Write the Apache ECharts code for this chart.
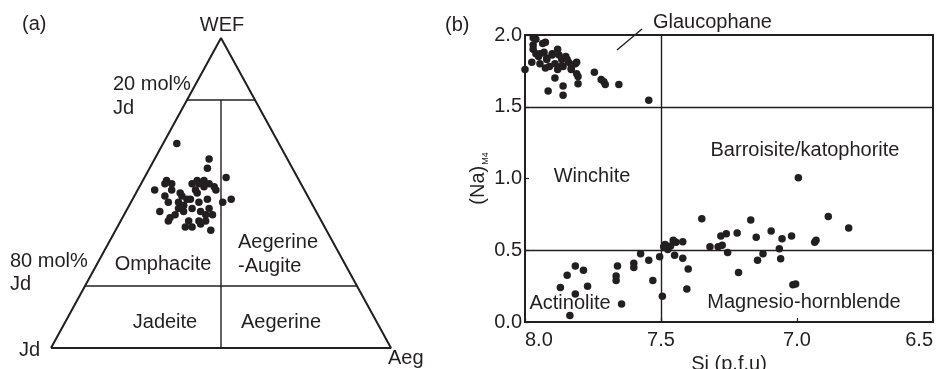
<!DOCTYPE html>
<html>
<head>
<meta charset="utf-8">
<script src="https://cdn.jsdelivr.net/npm/echarts@6/dist/echarts.min.js"></script>
<style>
  html, body { margin: 0; padding: 0; background: #fff; }
  #chart { width: 937px; height: 369px; }
</style>
</head>
<body>
<div id="chart"></div>
<script>
// ---- Panel (a): clinopyroxene end-member proportions (mol%) ----
const cpxWef = [66,61,58,55,48,47,51,54,53,51,49,47,44,42,41,50,49,53,54,54,53,52,51,51,50,48,47,46,48,47,48,45,44,45,44,45,43,41,41,41,39,39,40,38,53,43,53,52,46,43];
const cpxJd  = [30,23,25,21,23,26,44,39,38,39,42,42,46,44,45,37,37,32,30,28,27,26,26,32,32,36,39,38,35,33,30,40,39,36,34,31,31,39,36,34,41,39,36,34,40,42,30,29,38,33];
const cpxAeg = [ 4,16,17,24,29,27, 5, 7, 9,10, 9,11,10,14,14,13,14,15,16,18,20,22,23,17,18,16,14,16,17,20,22,15,17,19,22,24,26,20,23,25,20,22,24,28, 7,15,17,19,16,24];

// Classification boundaries, as [Jd, Aeg, WEF] end points
const cpxFrame = [[100,0,0],[0,100,0],[0,0,100],[100,0,0]];
const cpxBounds = [
  [[20,0,80],[0,20,80]],
  [[80,0,20],[0,80,20]],
  [[10,10,80],[50,50,0]]
];

// ---- Panel (b): amphibole Si (p.f.u.) vs (Na)M4 ----
const amphSi = [8.00,7.97,7.97,7.97,7.975,7.96,7.95,7.935,7.925,7.945,7.93,7.92,7.91,7.90,7.88,7.875,7.865,7.89,7.88,7.86,7.85,7.84,7.83,7.815,7.81,7.805,7.89,7.915,7.86,7.86,7.745,7.72,7.705,7.655,7.545,7.96,7.925,7.83,7.81,7.805,7.71,7.90,7.845,7.945,7.87,7.92,
  7.87,7.845,7.815,7.785,7.815,7.77,7.835,7.645,7.665,7.665,7.66,7.60,7.60,7.575,7.545,7.53,7.505,7.495,7.49,7.485,7.475,7.465,7.455,7.45,7.445,7.42,7.42,7.40,7.405,7.35,7.32,7.29,7.275,7.28,7.26,7.255,7.22,7.215,7.17,7.15,7.125,7.145,7.095,7.055,7.065,7.06,7.02,7.015,7.005,6.935,6.93,6.885,6.81,6.995];
const amphNa = [1.76,1.98,1.93,1.90,1.81,1.87,1.85,1.94,1.95,1.80,1.88,1.84,1.78,1.87,1.90,1.86,1.83,1.80,1.76,1.78,1.85,1.81,1.76,1.80,1.73,1.66,1.70,1.61,1.645,1.58,1.74,1.69,1.655,1.655,1.545,1.97,1.77,1.77,1.81,1.71,1.675,1.86,1.83,1.87,1.78,1.83,
  0.24,0.325,0.39,0.36,0.195,0.25,0.045,0.125,0.29,0.32,0.39,0.38,0.41,0.475,0.43,0.29,0.455,0.18,0.525,0.54,0.505,0.53,0.57,0.465,0.555,0.56,0.445,0.37,0.23,0.72,0.525,0.525,0.535,0.60,0.615,0.485,0.62,0.345,0.71,0.59,0.475,0.43,0.635,0.58,0.51,0.44,0.60,0.26,0.265,0.555,0.57,0.735,0.655,1.005];

const naBounds = [0.5, 1.5];
const siBounds = [7.5];
const siTicks = [6.5, 8.0, 0.5];   // min, max, step
const naTicks = [0.0, 2.0, 0.5];

// ---- helpers ----
const INK = '#231f20';
const FAMILY = '"Liberation Sans", Arial, sans-serif';
const FONT = '20px ' + FAMILY;

// Ternary [Jd, Aeg, WEF] -> triangle coordinates (Jd bottom-left, Aeg bottom-right, WEF apex)
function tern(jd, aeg, wef) {
  const s = jd + aeg + wef;
  return [(aeg + wef / 2) / s, wef / s];
}

const cpxPoints = cpxJd.map((jd, i) => tern(jd, cpxAeg[i], cpxWef[i]));
const framePts = cpxFrame.map(p => tern(p[0], p[1], p[2]));
const boundSeries = cpxBounds.map(seg => ({
  type: 'line', xAxisIndex: 0, yAxisIndex: 0,
  data: seg.map(p => tern(p[0], p[1], p[2])),
  symbol: 'none', silent: true,
  lineStyle: { color: INK, width: 1.4 }
}));

const amphPoints = amphSi.map((s, i) => [s, amphNa[i]]);

function txt(x, y, text, align) {
  return {
    type: 'text', silent: true,
    style: {
      x: x, y: y, text: text, font: FONT, fill: INK,
      textAlign: align || 'left', align: align || 'left',
      textVerticalAlign: 'middle', verticalAlign: 'middle'
    }
  };
}

const chart = echarts.init(document.getElementById('chart'), null, { renderer: 'canvas' });

chart.setOption({
  animation: false,
  backgroundColor: '#fff',
  textStyle: { fontFamily: FAMILY },
  grid: [
    { left: 51, top: 38, width: 340, height: 310, show: false,
      containLabel: false, outerBoundsMode: 'none' },
    { left: 525, top: 35, width: 408, height: 287, show: true,
      containLabel: false, outerBoundsMode: 'none',
      borderColor: INK, borderWidth: 2, backgroundColor: 'transparent' }
  ],
  xAxis: [
    { gridIndex: 0, type: 'value', min: 0, max: 1, show: false },
    { gridIndex: 1, type: 'value', inverse: true,
      min: siTicks[0], max: siTicks[1], interval: siTicks[2],
      name: 'Si (p.f.u)', nameLocation: 'middle', nameGap: 32,
      nameTextStyle: { color: INK, fontSize: 20, fontFamily: FAMILY },
      axisLine: { show: false },
      axisTick: { show: true, inside: true, length: 4, lineStyle: { color: INK, width: 1.2 } },
      splitLine: { show: false },
      axisLabel: { color: INK, fontSize: 20, margin: 8,
        fontFamily: FAMILY,
        alignMinLabel: 'right', alignMaxLabel: 'left',
        formatter: v => v.toFixed(1) }
    }
  ],
  yAxis: [
    { gridIndex: 0, type: 'value', min: 0, max: 1, show: false },
    { gridIndex: 1, type: 'value',
      min: naTicks[0], max: naTicks[1], interval: naTicks[2],
      name: '{a|(Na)}{b|M4}', nameLocation: 'middle', nameGap: 35, nameRotate: 90,
      nameTextStyle: {
        color: INK,
        rich: {
          a: { fontSize: 20, color: INK, fontFamily: FAMILY, lineHeight: 24 },
          b: { fontSize: 9, color: INK, fontFamily: FAMILY, verticalAlign: 'bottom', lineHeight: 24, padding: [0, 0, 0, 1] }
        }
      },
      axisLine: { show: false },
      axisTick: { show: true, inside: true, length: 4, lineStyle: { color: INK, width: 1.2 } },
      splitLine: { show: false },
      axisLabel: { color: INK, fontSize: 20, margin: 3, padding: [5, 0, 0, 0],
        fontFamily: FAMILY,
        formatter: v => v.toFixed(1) }
    }
  ],
  series: [
    { type: 'line', xAxisIndex: 0, yAxisIndex: 0, data: framePts,
      symbol: 'none', silent: true, lineStyle: { color: INK, width: 2 } },
    ...boundSeries,
    { type: 'scatter', xAxisIndex: 0, yAxisIndex: 0, data: cpxPoints,
      symbol: 'circle', symbolSize: 7.5, itemStyle: { color: INK, opacity: 1 }, clip: false },
    { type: 'scatter', xAxisIndex: 1, yAxisIndex: 1, data: amphPoints,
      symbol: 'circle', symbolSize: 7.5, itemStyle: { color: INK, opacity: 1 }, clip: false,
      markLine: {
        silent: true, symbol: 'none', label: { show: false },
        lineStyle: { color: INK, width: 1.4, type: 'solid' },
        data: naBounds.map(v => ({ yAxis: v })).concat(siBounds.map(v => ({ xAxis: v })))
      }
    }
  ],
  graphic: [
    // panel (a) labels
    txt(22, 24, '(a)'),
    txt(222, 25, 'WEF', 'center'),
    txt(113, 84, '20 mol%'),
    txt(113, 108, 'Jd'),
    txt(10, 261, '80 mol%'),
    txt(10, 284, 'Jd'),
    txt(163, 264, 'Omphacite', 'center'),
    txt(238, 242, 'Aegerine'),
    txt(238, 266, '-Augite'),
    txt(165, 322, 'Jadeite', 'center'),
    txt(281, 322, 'Aegerine', 'center'),
    txt(19, 350, 'Jd'),
    txt(388, 358, 'Aeg'),
    // panel (b) labels
    txt(445, 25, '(b)'),
    txt(653, 22, 'Glaucophane'),
    { type: 'line', silent: true,
      shape: { x1: 642, y1: 29, x2: 617, y2: 50 },
      style: { stroke: INK, lineWidth: 1.4 } },
    txt(592, 176, 'Winchite', 'center'),
    txt(805, 150, 'Barroisite/katophorite', 'center'),
    txt(570, 303, 'Actinolite', 'center'),
    txt(804, 302, 'Magnesio-hornblende', 'center')
  ]
});
</script>
</body>
</html>
